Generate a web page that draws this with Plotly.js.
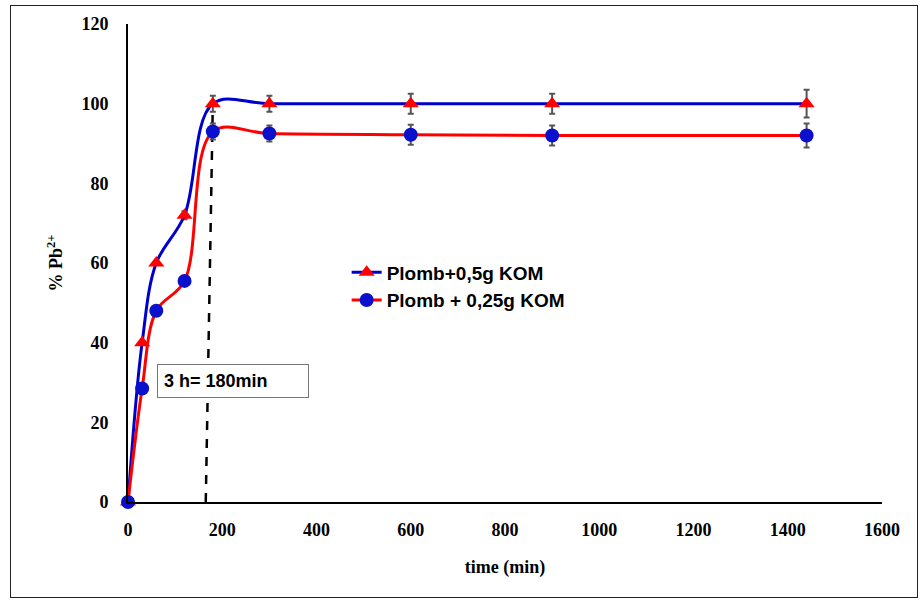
<!DOCTYPE html>
<html><head><meta charset="utf-8">
<script src="https://cdn.plot.ly/plotly-3.0.1.min.js"></script>
<style>body{margin:0;background:#fff}#wrap{position:relative;width:920px;height:600px}
#frame{position:absolute;left:10px;top:5px;width:906px;height:591px;border:1px solid #222;pointer-events:none}</style>
</head><body><div id="wrap"><div id="chart" style="width:920px;height:600px"></div><div id="frame"></div></div>
<script>
const time = [0, 30, 60, 120, 180, 300, 600, 900, 1440];
const pb05 = [0, 40, 60, 72, 100, 100, 100, 100, 100];
const pb05Err = [0, 0, 0, 1, 2, 2, 2.5, 2.5, 3.5];
const pb025 = [0, 28.5, 48, 55.5, 93, 92.5, 92.2, 92, 92];
const pb025Err = [0, 0, 0, 0, 2, 2, 2.5, 2.5, 3];
const dashX = [165, 180];
const dashY = [0, 100];
const xTicks = [0, 200, 400, 600, 800, 1000, 1200, 1400, 1600];
const yTicks = [0, 20, 40, 60, 80, 100, 120];

const traces = [
  {x: dashX, y: dashY, mode: 'lines', line: {color: '#000', width: 2.5, dash: 'dash'}, showlegend: false, hoverinfo: 'skip'},
  {x: time, y: pb05, name: 'Plomb+0,5g KOM', mode: 'lines+markers', cliponaxis: false, line: {color: '#0000CC', width: 3, shape: 'spline', smoothing: 1},
   marker: {symbol: 'triangle-up', size: 14, color: '#FF0000'},
   error_y: {type: 'data', array: pb05Err, visible: true, color: '#555', thickness: 2, width: 3}},
  {x: time, y: pb025, name: 'Plomb + 0,25g KOM', mode: 'lines+markers', cliponaxis: false, line: {color: '#FF0000', width: 3, shape: 'spline', smoothing: 1},
   marker: {symbol: 'circle', size: 14, color: '#0A10CC'},
   error_y: {type: 'data', array: pb025Err, visible: true, color: '#555', thickness: 2, width: 3}}
];
const serif = {family: 'Liberation Serif, Times New Roman, serif', size: 18, color: '#000', weight: 'bold'};
const layout = {
  width: 920, height: 600,
  margin: {l: 128, r: 38, t: 24, b: 98},
  paper_bgcolor: '#fff', plot_bgcolor: '#fff',
  showlegend: true,
  legend: {x: 0.29, y: 0.52, xanchor: 'left', yanchor: 'top', bgcolor: 'rgba(0,0,0,0)',
    font: {family: 'Liberation Sans, Arial, sans-serif', size: 19, color: '#000', weight: 'bold'}, itemwidth: 30, tracegroupgap: 6},
  xaxis: {range: [0, 1600], tickvals: xTicks, ticktext: xTicks.map(String), showgrid: false, zeroline: false,
    showline: true, linecolor: '#000', linewidth: 2, ticks: '', tickfont: serif, ticklabelstandoff: 10,
    title: {text: 'time (min)', font: serif, standoff: 22}},
  yaxis: {range: [0, 120], tickvals: yTicks, ticktext: yTicks.map(String), showgrid: false, zeroline: false,
    showline: true, linecolor: '#000', linewidth: 2, ticks: '', tickfont: serif, ticklabelstandoff: 14,
    title: {text: '% Pb<sup>2+</sup>', font: serif, standoff: 14}},
  annotations: [{x: 61, y: 30.5, xref: 'x', yref: 'y', xanchor: 'left', yanchor: 'middle', text: '<b>3 h= 180min</b>', showarrow: false,
    font: {family: 'Liberation Sans, Arial, sans-serif', size: 18, color: '#000'}, bgcolor: '#fff', bordercolor: '#777', borderwidth: 1,
    borderpad: 6, width: 138, align: 'left'}]
};
Plotly.newPlot('chart', traces, layout, {displayModeBar: false, staticPlot: true});
</script></body></html>
